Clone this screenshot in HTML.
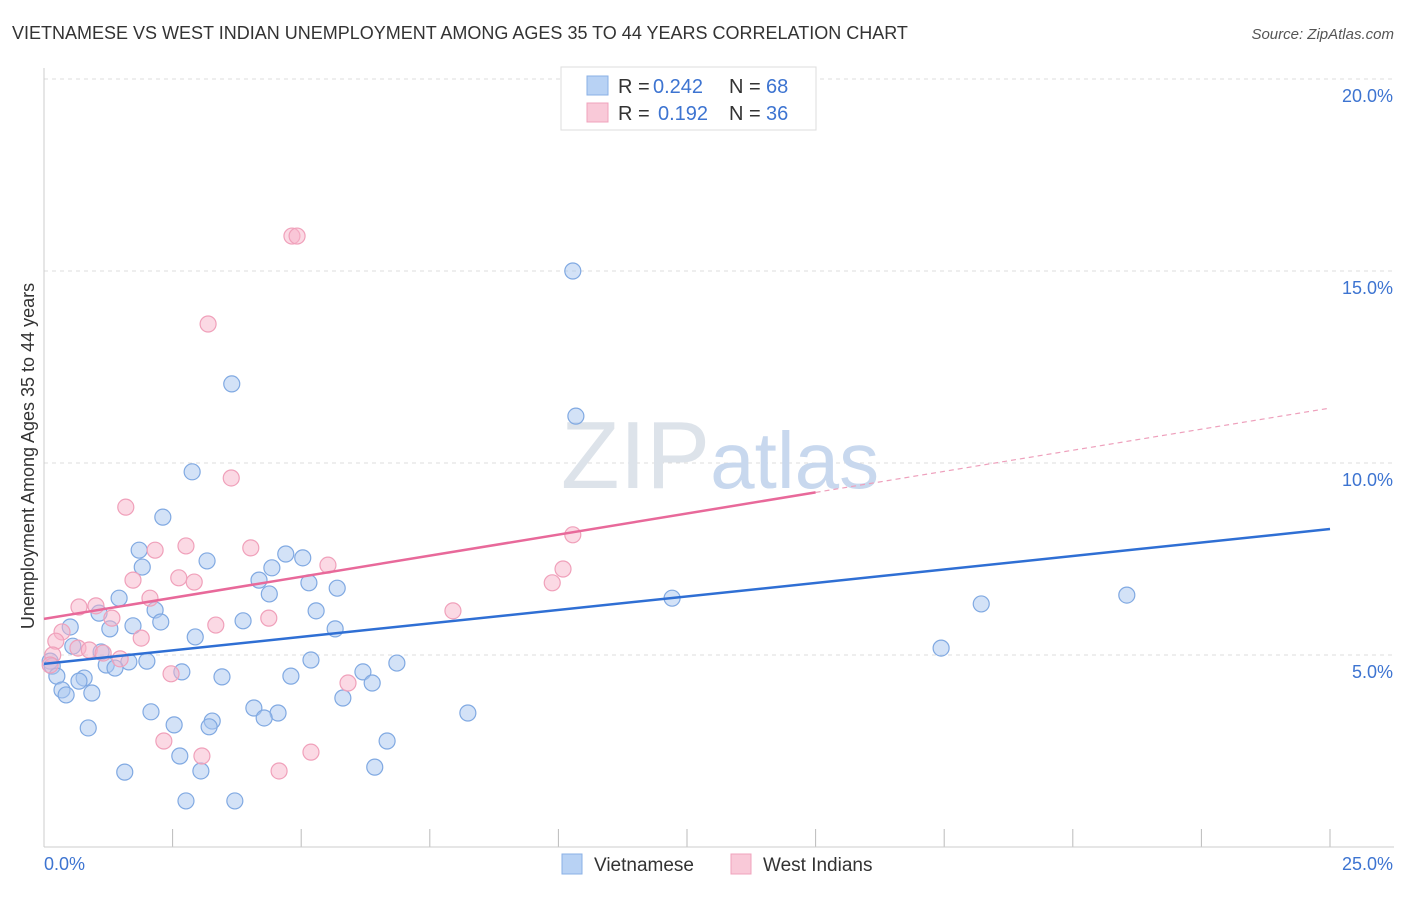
<!DOCTYPE html>
<html><head><meta charset="utf-8"><style>
body{margin:0;background:#fff;font-family:"Liberation Sans",sans-serif;}
svg text{font-family:"Liberation Sans",sans-serif;}
</style></head><body>
<svg width="1406" height="892" viewBox="0 0 1406 892">
<text x="12" y="39" font-size="18" fill="#333">VIETNAMESE VS WEST INDIAN UNEMPLOYMENT AMONG AGES 35 TO 44 YEARS CORRELATION CHART</text>
<text x="1394" y="39" font-size="15" fill="#555" font-style="italic" text-anchor="end">Source: ZipAtlas.com</text>
<g id="grid"></g>
<text x="720" y="488" font-size="96" fill="#dde3ea" text-anchor="middle" font-family="Liberation Serif">ZIP<tspan fill="#c8d8ee" font-family="Liberation Sans" font-size="80">atlas</tspan></text>
<line x1="44" y1="68" x2="44" y2="847" stroke="#ccc"/>
<line x1="44" y1="847" x2="1394" y2="847" stroke="#ccc"/>
<text x="34" y="456" font-size="18" fill="#333" text-anchor="middle" transform="rotate(-90 34 456)">Unemployment Among Ages 35 to 44 years</text>
<g id="pts"></g>
<g id="lines"></g>
<g>
<rect x="561" y="67" width="255" height="63" fill="#fff" stroke="#ddd"/>
<rect x="587" y="76" width="21" height="19" fill="#b8d2f4" stroke="#8ab0e6"/>
<rect x="587" y="103" width="21" height="19" fill="#f9c9d8" stroke="#f0a3bc"/>
<text x="618" y="93" font-size="20" fill="#333">R =</text>
<text x="653" y="93" font-size="20" fill="#3d74d1">0.242</text>
<text x="729" y="93" font-size="20" fill="#333">N =</text>
<text x="766" y="93" font-size="20" fill="#3d74d1">68</text>
<text x="618" y="120" font-size="20" fill="#333">R =</text>
<text x="658" y="120" font-size="20" fill="#3d74d1">0.192</text>
<text x="729" y="120" font-size="20" fill="#333">N =</text>
<text x="766" y="120" font-size="20" fill="#3d74d1">36</text>
</g>
<g>
<rect x="562" y="854" width="20" height="20" fill="#b8d2f4" stroke="#8ab0e6"/>
<text x="594" y="871" font-size="19" fill="#333">Vietnamese</text>
<rect x="731" y="854" width="20" height="20" fill="#f9c9d8" stroke="#f0a3bc"/>
<text x="763" y="871" font-size="19" fill="#333">West Indians</text>
</g>
<text x="44" y="870" font-size="18" fill="#3d74d1">0.0%</text>
<text x="1393" y="870" font-size="18" fill="#3d74d1" text-anchor="end">25.0%</text>
</svg>
<script>
const yTicks=[5,10,15,20];
const yTickLabels=["5.0%","10.0%","15.0%","20.0%"];
const xTicks=[2.5,5,7.5,10,12.5,15,17.5,20,22.5,25];
const viX=[10.28,10.34,3.65,2.88,2.31,1.85,1.91,3.17,4.70,5.03,4.43,4.18,4.38,5.15,5.70,1.46,2.16,1.07,5.29,2.27,3.87,1.73,1.28,5.66,0.51,2.94,0.56,1.11,2.00,1.65,1.21,1.38,5.19,6.86,0.12,0.16,2.68,6.20,0.25,3.46,4.80,0.78,0.68,6.38,0.35,0.43,0.93,5.81,2.08,4.08,4.55,4.28,8.24,3.27,2.53,3.21,0.86,6.67,2.64,6.43,1.57,3.05,2.76,3.71,12.21,17.44,18.22,21.05];
const viY=[15.0,11.22,12.06,9.77,8.59,7.73,7.29,7.45,7.63,7.53,7.27,6.95,6.59,6.88,6.74,6.48,6.17,6.09,6.15,5.86,5.89,5.76,5.68,5.68,5.73,5.47,5.23,5.08,4.84,4.82,4.74,4.66,4.87,4.79,4.84,4.71,4.56,4.56,4.45,4.43,4.45,4.40,4.32,4.27,4.09,3.96,4.01,3.88,3.52,3.62,3.49,3.36,3.49,3.28,3.18,3.13,3.10,2.76,2.37,2.08,1.95,1.98,1.20,1.20,6.48,5.18,6.33,6.56];
const wiX=[4.82,4.92,3.19,3.64,1.59,10.28,2.76,2.16,4.02,5.52,10.09,9.88,2.62,2.92,1.73,2.06,0.68,1.01,1.32,4.37,7.95,3.34,0.35,1.89,0.23,0.66,0.88,1.15,0.17,1.48,0.12,2.47,5.91,2.33,3.07,5.19,4.57];
const wiY=[15.91,15.91,13.62,9.61,8.85,8.13,7.84,7.73,7.79,7.34,7.24,6.88,7.01,6.90,6.95,6.48,6.25,6.28,5.96,5.96,6.15,5.78,5.60,5.44,5.36,5.18,5.13,5.05,5.00,4.90,4.74,4.51,4.27,2.76,2.37,2.47,1.98];
const viTrend=[4.77,8.28];
const wiTrend=[5.94,11.43];
const wiSolidEnd=15;
const NS="http://www.w3.org/2000/svg";
const X=v=>44+v*51.44, Y=v=>847-v*38.4;
function mk(t,a,p){const e=document.createElementNS(NS,t);for(const k in a)e.setAttribute(k,a[k]);p.appendChild(e);return e;}
const grid=document.getElementById('grid');
yTicks.forEach((t,i)=>{
 const l=mk('line',{x1:44,x2:1394,y1:Y(t),y2:Y(t),stroke:'#ddd','stroke-dasharray':'4,4'},grid);
 
 
 const tx=mk('text',{x:1393,y:Y(t)+23,'font-size':18,fill:'#3d74d1','text-anchor':'end'},grid);
 tx.textContent=yTickLabels[i];
 
 
});
xTicks.forEach(t=>{
 const l=mk('line',{x1:X(t),x2:X(t),y1:829,y2:847,stroke:'#bbb'},grid);
 
 
});
const pts=document.getElementById('pts');
viX.forEach((x,i)=>{
 const c=mk('circle',{cx:X(x),cy:Y(viY[i]),r:8,fill:'rgba(168,198,240,0.5)',stroke:'#80a9e2','stroke-width':1.2},pts);
 
 
});
wiX.forEach((x,i)=>{
 const c=mk('circle',{cx:X(x),cy:Y(wiY[i]),r:8,fill:'rgba(247,180,202,0.5)',stroke:'#f0a0ba','stroke-width':1.2},pts);
 
 
});
const ln=document.getElementById('lines');
const b=mk('line',{x1:X(0),y1:Y(viTrend[0]),x2:X(25),y2:Y(viTrend[1]),stroke:'#2f6fd4','stroke-width':2.5},ln);


const wAt=v=>wiTrend[0]+(wiTrend[1]-wiTrend[0])*v/25;
const p1=mk('line',{x1:X(0),y1:Y(wAt(0)),x2:X(wiSolidEnd),y2:Y(wAt(wiSolidEnd)),stroke:'#e8699a','stroke-width':2.5},ln);


const p2=mk('line',{x1:X(wiSolidEnd),y1:Y(wAt(wiSolidEnd)),x2:X(25),y2:Y(wAt(25)),stroke:'#eea0bc','stroke-width':1.2,'stroke-dasharray':'5,4'},ln);


</script>
</body></html>
